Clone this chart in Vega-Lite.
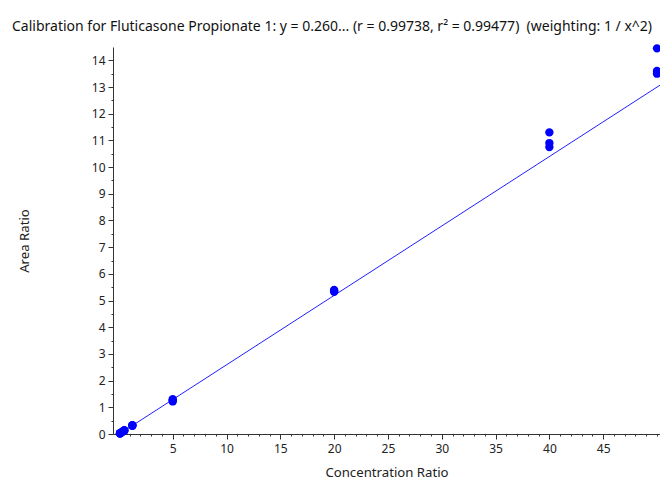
{
  "$schema": "https://vega.github.io/schema/vega-lite/v6.json",
  "autosize": {"type": "none"},
  "width": 547,
  "height": 387,
  "padding": {"left": 113, "top": 47, "right": 0, "bottom": 47},
  "background": "white",
  "config": {
    "view": {"stroke": null},
    "font": "Noto Sans",
    "axis": {"grid": false, "domainColor": "#333", "tickColor": "#333", "labelColor": "#222", "titleColor": "#222", "labelFont": "Noto Sans", "titleFont": "Noto Sans", "labelFontSize": 12, "titleFontSize": 13.2, "titleFontWeight": "normal"}
  },
  "title": {"text": "Calibration for Fluticasone Propionate 1: y = 0.260... (r = 0.99738, r² = 0.99477)\u00a0 (weighting: 1 / x^2)", "anchor": "start", "frame": "group", "dx": -101, "offset": 10, "font": "Noto Sans", "fontSize": 14, "fontWeight": "normal", "color": "#111"},
  "datasets": {
    "pts": [
      {"conc": 0.1, "area": 0.02}, {"conc": 0.1, "area": 0.03}, {"conc": 0.1, "area": 0.03},
      {"conc": 0.25, "area": 0.06}, {"conc": 0.25, "area": 0.07}, {"conc": 0.25, "area": 0.06},
      {"conc": 0.5, "area": 0.13}, {"conc": 0.5, "area": 0.12}, {"conc": 0.5, "area": 0.14},
      {"conc": 1.25, "area": 0.31}, {"conc": 1.25, "area": 0.32}, {"conc": 1.25, "area": 0.33},
      {"conc": 5, "area": 1.22}, {"conc": 5, "area": 1.26}, {"conc": 5, "area": 1.3},
      {"conc": 20, "area": 5.33}, {"conc": 20, "area": 5.36}, {"conc": 20, "area": 5.4},
      {"conc": 40, "area": 10.75}, {"conc": 40, "area": 10.9}, {"conc": 40, "area": 11.3},
      {"conc": 50, "area": 13.5}, {"conc": 50, "area": 13.6}, {"conc": 50, "area": 14.45}
    ],
    "fit": [
      {"conc": 0.05, "area": 0.003},
      {"conc": 50.28, "area": 13.07}
    ]
  },
  "layer": [
    {
      "data": {"name": "fit"},
      "mark": {"type": "line", "color": "#2020ff", "strokeWidth": 1, "clip": true},
      "encoding": {
        "x": {"field": "conc", "type": "quantitative", "scale": {"domain": [-0.55, 50.28], "nice": false, "zero": false},
              "axis": {"orient": "bottom", "values": [5, 10, 15, 20, 25, 30, 35, 40, 45], "tickSize": 5, "labelPadding": 4, "title": "Concentration Ratio", "titlePadding": 12, "labelFlush": false}},
        "y": {"field": "area", "type": "quantitative", "scale": {"domain": [0, 14.5], "nice": false},
              "axis": {"orient": "left", "values": [0, 1, 2, 3, 4, 5, 6, 7, 8, 9, 10, 11, 12, 13, 14], "tickSize": 5, "labelPadding": 3, "title": "Area Ratio", "titlePadding": 60, "labelFlush": false}}
      }
    },
    {
      "data": {"name": "pts"},
      "mark": {"type": "circle", "size": 70, "color": "#0000ff", "opacity": 1},
      "encoding": {
        "x": {"field": "conc", "type": "quantitative",
              "axis": {"orient": "bottom", "values": [0,1,2,3,4,5,6,7,8,9,10,11,12,13,14,15,16,17,18,19,20,21,22,23,24,25,26,27,28,29,30,31,32,33,34,35,36,37,38,39,40,41,42,43,44,45,46,47,48,49,50], "tickSize": 2, "labels": false, "title": null, "domain": false}},
        "y": {"field": "area", "type": "quantitative",
              "axis": {"orient": "left", "values": [0.5,1.5,2.5,3.5,4.5,5.5,6.5,7.5,8.5,9.5,10.5,11.5,12.5,13.5], "tickSize": 2, "labels": false, "title": null, "domain": false}}
      }
    }
  ],
  "resolve": {"axis": {"x": "independent", "y": "independent"}}
}
